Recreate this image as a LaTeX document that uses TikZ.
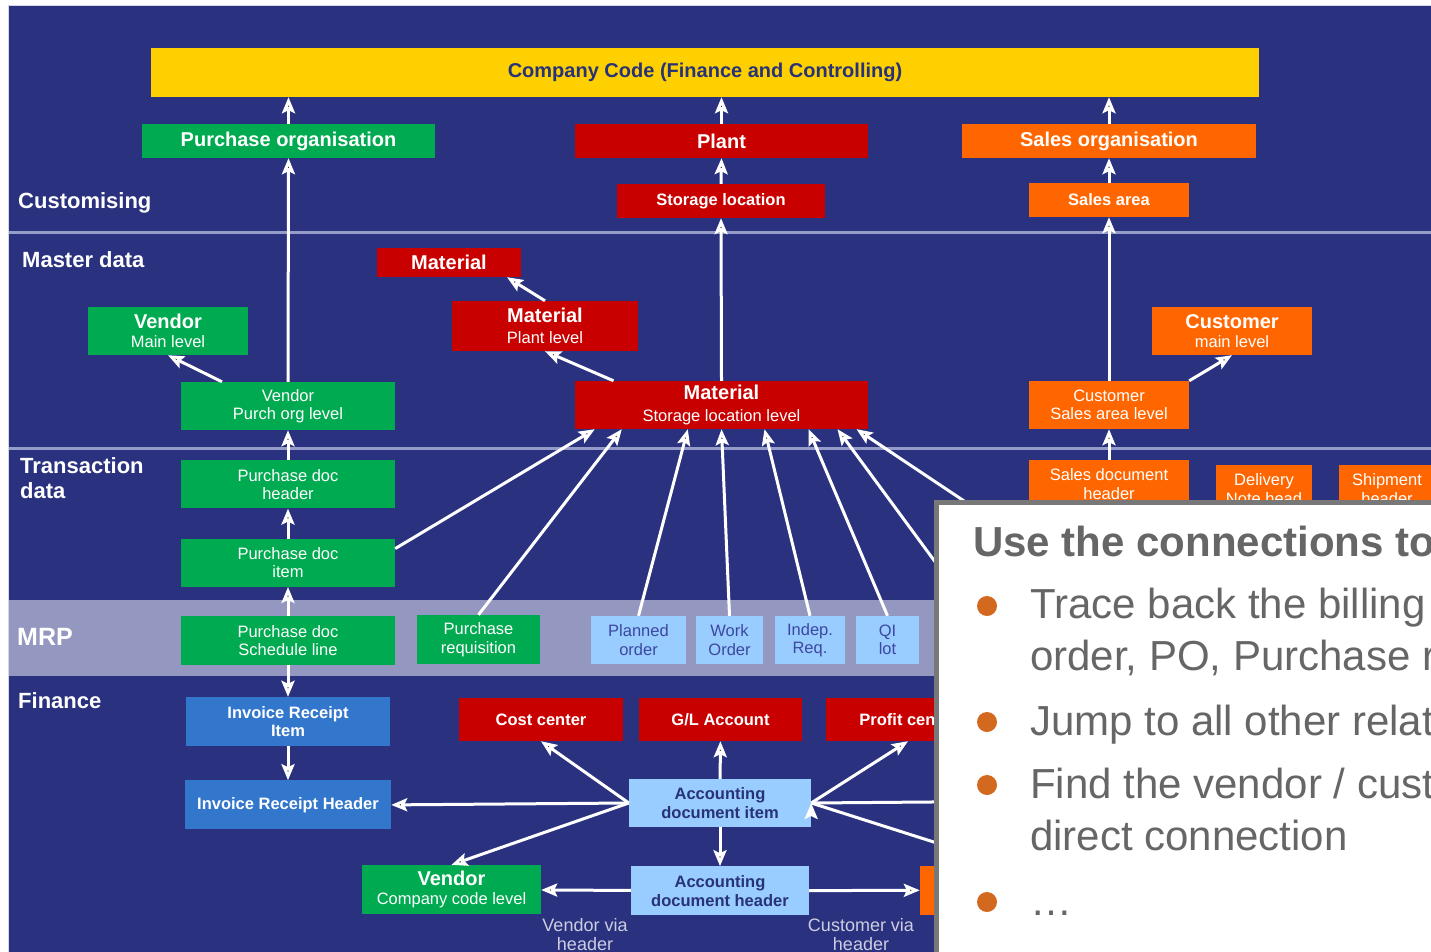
\documentclass[tikz,border=0pt]{standalone}
\usepackage{fontspec}
\setmainfont{Liberation Sans}
\usetikzlibrary{arrows.meta, positioning}

\definecolor{sapnavy}{RGB}{42,50,128}
\definecolor{sapyellow}{RGB}{255,208,0}
\definecolor{sapgreen}{RGB}{0,170,80}
\definecolor{sapred}{RGB}{200,0,0}
\definecolor{saporange}{RGB}{255,102,0}
\definecolor{sapblue}{RGB}{51,119,204}
\definecolor{saplight}{RGB}{153,204,255}
\definecolor{mrpband}{RGB}{148,152,192}
\definecolor{lanegray}{RGB}{150,156,200}
\definecolor{mrptext}{RGB}{60,72,160}
\definecolor{acctext}{RGB}{40,50,120}
\definecolor{viagray}{RGB}{205,205,225}
\definecolor{panelgray}{RGB}{120,120,120}
\definecolor{notetext}{RGB}{102,102,102}
\definecolor{bulletorange}{RGB}{210,105,30}

\newcommand{\boxtitle}[1]{{\fontsize{20}{22}\selectfont\bfseries #1}}

\tikzset{
>={Stealth[length=16pt, width=13pt, inset=3pt]}, % white arrow heads
box/.style={rectangle, inner sep=0pt, align=center, text=white, font=\fontsize{16.5}{18.5}\selectfont}, % every coloured box
boxsize/.style 2 args={minimum width=#1, minimum height=#2},
greenbox/.style={box, fill=sapgreen},
redbox/.style={box, fill=sapred},
orangebox/.style={box, fill=saporange},
bluebox/.style={box, fill=sapblue},
lightbox/.style={box, fill=saplight, text=mrptext},
titletext/.style={font=\fontsize{20}{22}\selectfont\bfseries},
boldtext/.style={font=\fontsize{16.5}{18.5}\selectfont\bfseries},
lanelabel/.style={anchor=base west, inner sep=0pt, align=left, text=white, font=\fontsize{22}{25}\selectfont\bfseries},
laneline/.style={draw=lanegray, line width=3pt},
link/.style={->, draw=white, line width=3pt}, % the connections
vialabel/.style={inner sep=0pt, align=center, text=viagray, font=\fontsize{18}{19}\selectfont},
notepanel/.style={fill=white, draw=panelgray, line width=5pt},
notehead/.style={anchor=base west, inner sep=0pt, text=notetext, font=\fontsize{42}{48}\selectfont\bfseries},
noteline/.style={anchor=base west, inner sep=0pt, text=notetext, font=\fontsize{42}{52}\selectfont},
bulletdot/.style={circle, fill=bulletorange, inner sep=0pt, minimum size=20pt},
}

\begin{document}
\begin{tikzpicture}[x=1pt, y=-1pt]
  \useasboundingbox (0,0) rectangle (1431,952);
  \clip (0,0) rectangle (1431,952);

  % Lanes
  \fill[white] (0,0) rectangle (1431,952);
  \filldraw[fill=sapnavy, draw=lanegray!40, line width=1pt] (8.5,5.5) rectangle (1440,960);
  \fill[mrpband] (9,600) rectangle (1431,676);
  \draw[laneline] (9,232) -- (1431,232);
  \draw[laneline] (9,448) -- (1431,448);

  \node[lanelabel] (lcust) at (18,208) {Customising};
  \node[lanelabel] (lmaster) at (22,267) {Master data};
  \node[lanelabel] (ltrans) at (20,498) {Transaction\\data};
  \node[lanelabel, font=\fontsize{25}{28}\selectfont\bfseries] (lmrp) at (17,645) {MRP};
  \node[lanelabel] (lfin) at (18,708) {Finance};

  % Customising
  \node[box, fill=sapyellow, text=acctext, titletext, boxsize={1108pt}{49pt}] (ccode) at (705,72.5) {Company Code (Finance and Controlling)};
  \node[greenbox, titletext, boxsize={293pt}{34pt}] (porg) at (288.5,141) {Purchase organisation};
  \node[redbox, titletext, boxsize={293pt}{34pt}] (plant) at (721.5,141) {Plant};
  \node[orangebox, titletext, boxsize={294pt}{34pt}] (sorg) at (1109,141) {Sales organisation};
  \node[redbox, boldtext, boxsize={208pt}{34pt}] (sloc) at (721,201) {Storage location};
  \node[orangebox, boldtext, boxsize={160pt}{34pt}] (sarea) at (1109,200) {Sales area};

  % Master data
  \node[redbox, titletext, boxsize={144pt}{29pt}] (mat) at (449,262.5) {Material};
  \node[redbox, boxsize={186pt}{50pt}] (matplant) at (545,326) {\boxtitle{Material}\\[3pt] Plant level};
  \node[greenbox, boxsize={160pt}{48pt}] (vendmain) at (168,331) {\boxtitle{Vendor}\\ Main level};
  \node[greenbox, boxsize={214pt}{48pt}] (vendporg) at (288,406) {Vendor\\ Purch org level};
  \node[redbox, boxsize={293pt}{48pt}] (matsloc) at (721.5,405) {\boxtitle{Material}\\[3pt] Storage location level};
  \node[orangebox, boxsize={160pt}{48pt}] (custmain) at (1232,331) {\boxtitle{Customer}\\ main level};
  \node[orangebox, boxsize={160pt}{48pt}] (custsarea) at (1109,405) {Customer\\ Sales area level};

  % Transaction data
  \node[greenbox, boxsize={214pt}{48pt}, below=30pt of vendporg] (pdochead) {Purchase doc\\ header};
  \node[greenbox, boxsize={214pt}{48pt}, below=30pt of pdochead] (pdocitem) {Purchase doc\\ item};
  \node[orangebox, boxsize={160pt}{48pt}] (sdochead) at (1109,484) {Sales document\\ header};
  \node[orangebox, boxsize={96pt}{48pt}] (dnhead) at (1264,489) {Delivery\\ Note head};
  \node[orangebox, boxsize={96pt}{48pt}] (shiphead) at (1387,489) {Shipment\\ header};

  % MRP
  \node[greenbox, boxsize={214pt}{49pt}, below=29pt of pdocitem] (pdocsched) {Purchase doc\\ Schedule line};
  \node[greenbox, boxsize={123pt}{49pt}] (preq) at (478.5,639.5) {Purchase\\ requisition};
  \node[lightbox, boxsize={95pt}{48pt}] (plord) at (638.5,640) {Planned\\ order};
  \node[lightbox, boxsize={67pt}{48pt}] (workord) at (729.5,640) {Work\\ Order};
  \node[lightbox, boxsize={70pt}{48pt}] (indreq) at (810,640) {Indep.\\ Req.};
  \node[lightbox, boxsize={63pt}{48pt}] (qilot) at (887.5,640) {QI\\ lot};

  % Finance
  \node[bluebox, boldtext, boxsize={204pt}{49pt}] (iritem) at (288,721.5) {Invoice Receipt\\ Item};
  \node[bluebox, boldtext, boxsize={206pt}{49pt}, below=34pt of iritem] (irhead) {Invoice Receipt Header};
  \node[redbox, boldtext, boxsize={164pt}{43pt}] (costc) at (541,719.5) {Cost center};
  \node[redbox, boldtext, boxsize={163pt}{43pt}] (glacc) at (720.5,719.5) {G/L Account};
  \node[redbox, boldtext, boxsize={164pt}{43pt}] (profc) at (908,719.5) {Profit center};
  \node[lightbox, boldtext, text=acctext, boxsize={182pt}{48pt}] (accitem) at (720,803) {Accounting\\ document item};
  \node[lightbox, boldtext, text=acctext, boxsize={178pt}{49pt}, below=39pt of accitem] (acchead) {Accounting\\ document header};
  \node[greenbox, boxsize={179pt}{49pt}] (vendcc) at (451.5,889.5) {\boxtitle{Vendor}\\ Company code level};
  \node[orangebox, boxsize={179pt}{49pt}] (custcc) at (1009.5,890) {};
  \node[vialabel] (vendvia) at (585,935) {Vendor via\\ header};
  \node[vialabel] (custvia) at (861,935) {Customer via\\ header};

  % ends that lie under the note panel
  \coordinate (behinda) at (1000,650);
  \coordinate (behindb) at (1060,565);
  \coordinate (behindc) at (1050,801);
  \coordinate (behindd) at (1050,879);

  % Connections
  \path[link]
    (porg.north) edge (porg.north |- ccode.south)
    (plant.north) edge (plant.north |- ccode.south)
    (sorg.north) edge (sorg.north |- ccode.south)
    (sloc.north) edge (plant.south)
    (sarea.north) edge (sorg.south)
    (vendporg.north) edge (porg.south)
    (matsloc.north) edge (sloc.south)
    (custsarea.north) edge (sarea.south)
    ([xshift=-66pt]vendporg.north) edge (vendmain.south)
    ([xshift=-108pt]matsloc.north) edge (matplant.south)
    (matplant.north) edge ([xshift=58pt]mat.south)
    (custsarea.north east) edge (custmain.south)
    (pdochead) edge (vendporg)
    (pdocitem) edge (pdochead)
    (pdocsched) edge (pdocitem)
    (sdochead) edge (custsarea)
    ([yshift=-10pt]pdocitem.north east) edge ([xshift=20pt]matsloc.south west)
    (preq.north) edge ([xshift=47pt]matsloc.south west)
    (plord.north) edge ([xshift=113pt]matsloc.south west)
    (workord.north) edge (matsloc.south)
    (indreq.north) edge ([xshift=43pt]matsloc.south)
    (qilot.north) edge ([xshift=87pt]matsloc.south)
    (behinda) edge ([xshift=116pt]matsloc.south)
    (behindb) edge ([xshift=135pt]matsloc.south)
    (pdocsched) edge (iritem)
    (iritem) edge (irhead)
    (accitem.west) edge (costc.south)
    (accitem) edge (glacc)
    (accitem.east) edge (profc.south)
    (accitem.west) edge (irhead.east)
    (accitem.west) edge (vendcc.north)
    (accitem) edge (acchead)
    (acchead) edge (vendcc)
    (acchead) edge (custcc)
    (accitem.east) edge (behindc)
    (accitem.east) edge (behindd);

  % Note panel
  \filldraw[notepanel] (936.5,502.5) rectangle (1445,960);
  \node[notehead] (note) at (973,556) {Use the connections to};
  \node[bulletdot] (dota) at (987,606) {};
  \node[noteline] (tracea) at (1030,618) {Trace back the billing};
  \node[noteline] (traceb) at (1030,670) {order, PO, Purchase r};
  \node[bulletdot] (dotb) at (987,722) {};
  \node[noteline] (jump) at (1030,735) {Jump to all other relat};
  \node[bulletdot] (dotc) at (987,785) {};
  \node[noteline] (finda) at (1030,798) {Find the vendor / cust};
  \node[noteline] (findb) at (1030,850) {direct connection};
  \node[bulletdot] (dotd) at (987,902) {};
  \node[noteline] (more) at (1030,915) {…};
\end{tikzpicture}
\end{document}
